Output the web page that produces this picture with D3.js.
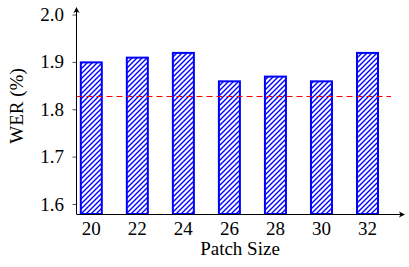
<!DOCTYPE html>
<html><head><meta charset="utf-8">
<script src="https://cdn.jsdelivr.net/npm/d3@7"></script>
<style>
body{margin:0;background:#fff}
svg{display:block}
.serif{font-family:"Liberation Serif","Times New Roman",Tinos,serif !important;}
</style>
</head><body>
<svg id="c" width="409" height="267"></svg>
<script>
const categories = [20, 22, 24, 26, 28, 30, 32];
const werValues = [1.90, 1.91, 1.92, 1.86, 1.87, 1.86, 1.92];
const baseline = 1.83;
const yTicks = [1.6, 1.7, 1.8, 1.9, 2.0];
const xLabel = "Patch Size";
const yLabel = "WER (%)";

const svg = d3.select("#c").attr("font-family","Liberation Serif");
const x = d3.scaleLinear().domain([20, 32]).range([91.3, 367.5]);
const y = d3.scaleLinear().domain([1.58, 2.0]).range([214, 15]);
const axisLeft = 76.5, axisBottom = 214;
const barW = 21;
const fs = "19px";

const defs = svg.append("defs");
const P = 5;
const pat = defs.append("pattern").attr("id","hatch").attr("patternUnits","userSpaceOnUse")
  .attr("width",P).attr("height",P);
pat.append("path").attr("d",`M-1,1 l2,-2 M0,${P} l${P},-${P} M${P-1},${P+1} l2,-2`)
  .attr("stroke","#0000ff").attr("stroke-width",1.4);

svg.selectAll("rect.bar").data(categories).enter().append("rect")
  .attr("class","bar")
  .attr("x", d => x(d) - barW/2)
  .attr("y", (d,i) => y(werValues[i]))
  .attr("width", barW)
  .attr("height", (d,i) => axisBottom - y(werValues[i]))
  .attr("fill","url(#hatch)")
  .attr("stroke","#0000ff").attr("stroke-width",2);

const by = Math.round(y(baseline)) + 0.5;
svg.append("line").attr("x1",axisLeft).attr("x2",391)
  .attr("y1",by).attr("y2",by)
  .attr("stroke","#ff0000").attr("stroke-width",1.2).attr("stroke-dasharray","6,4");

svg.append("line").attr("x1",axisLeft).attr("x2",axisLeft).attr("y1",axisBottom).attr("y2",9)
  .attr("stroke","#000").attr("stroke-width",1);
svg.append("line").attr("x1",axisLeft).attr("x2",402).attr("y1",axisBottom+0.5).attr("y2",axisBottom+0.5)
  .attr("stroke","#000").attr("stroke-width",1);
svg.append("path").attr("d",`M${axisLeft},7 L${axisLeft+3},13 L${axisLeft},11.5 L${axisLeft-3},13 Z`).attr("fill","#000");
svg.append("path").attr("d",`M405,${axisBottom+0.5} L399,${axisBottom-2.5} L400.5,${axisBottom+0.5} L399,${axisBottom+3.5} Z`).attr("fill","#000");

const yt = svg.append("g");
yTicks.forEach(t => {
  yt.append("line").attr("x1",axisLeft-4).attr("x2",axisLeft).attr("y1",y(t)).attr("y2",y(t))
    .attr("stroke","#000").attr("stroke-width",0.7);
  yt.append("text").attr("class","serif").attr("x",64).attr("y",y(t)+6).attr("text-anchor","end")
    .style("font-size",fs).text(t.toFixed(1));
});

svg.selectAll("text.xt").data(categories).enter().append("text")
  .attr("class","xt serif").attr("x", d => x(d)).attr("y",235).attr("text-anchor","middle")
  .style("font-size",fs).text(d => d);

svg.append("text").attr("class","serif").attr("x",240).attr("y",255).attr("text-anchor","middle")
  .style("font-size",fs).text(xLabel);
svg.append("text").attr("class","serif").attr("transform","translate(23,106) rotate(-90)").attr("text-anchor","middle")
  .style("font-size",fs).text(yLabel);
</script>
</body></html>
